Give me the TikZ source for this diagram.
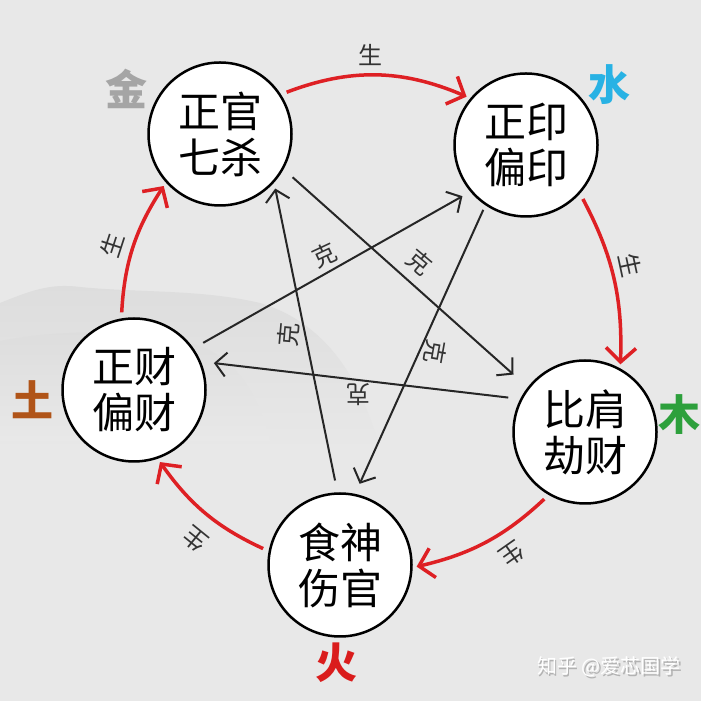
\documentclass[tikz,border=0pt]{standalone}
\usepackage{fontspec}
\newfontfamily\cjk{Noto Sans CJK SC}
\usetikzlibrary{arrows.meta}
\definecolor{bggray}{RGB}{232,232,232}
\definecolor{hillgray}{RGB}{221,221,221}
\definecolor{shengred}{RGB}{222,32,36}
\definecolor{jingray}{RGB}{165,165,165}
\definecolor{shuiblue}{RGB}{40,178,228}
\definecolor{mugreen}{RGB}{45,160,60}
\definecolor{huored}{RGB}{218,28,28}
\definecolor{tubrown}{RGB}{176,84,24}

\begin{document}
\begin{tikzpicture}[x=1pt,y=1pt,
		wx/.style={circle,draw,line width=2.5pt,fill=white,
				minimum size=143pt,inner sep=0pt,align=center,
				font=\cjk\fontsize{42}{46}\selectfont},
		elem/.style={font=\cjk\bfseries\fontsize{42}{42}\selectfont},
		sheng/.style={-{Straight Barb[length=14pt,width=30pt]},line width=3.5pt,shengred},
		ke/.style={-{Straight Barb[length=11pt,width=24pt]},line width=2pt,black!85},
		lbl/.style={font=\cjk\fontsize{24}{24}\selectfont,text=black!80}]
	\useasboundingbox (0,0) rectangle (701,701);
	\fill[bggray] (0,0) rectangle (701,701);
	% faint ink-wash hills
	\shade[top color=hillgray,bottom color=bggray] (0,398)
		.. controls (30,410) and (50,418) .. (80,414)
		.. controls (140,408) and (200,412) .. (260,398)
		.. controls (320,380) and (360,330) .. (380,250)
		-- (0,250) -- cycle;
	\shade[top color=hillgray,bottom color=bggray] (0,360)
		.. controls (60,372) and (140,372) .. (200,355)
		.. controls (240,340) and (260,300) .. (270,260)
		-- (0,260) -- cycle;
	% five elements
	\node[wx] (jin)  at (220,567) {正官\\七杀};
	\node[wx] (shui) at (526,556) {正印\\偏印};
	\node[wx] (mu)   at (585,269) {比肩\\劫财};
	\node[wx] (huo)  at (340,136) {食神\\伤官};
	\node[wx] (tu)   at (134,311) {正财\\偏财};
	\node[elem,text=jingray]  (jinname)  at (126,612) {金};
	\node[elem,text=shuiblue] (shuiname) at (609,616) {水};
	\node[elem,text=mugreen]  (muname)   at (679,286) {木};
	\node[elem,text=huored]   (huoname)  at (336,38)  {火};
	\node[elem,text=tubrown]  (tuname)   at (33,301)  {土};
	% sheng cycle
	\draw[sheng,shorten <=6pt,shorten >=4pt] (jin.33) to[bend left=22] (shui.140);
	\draw[sheng,shorten <=6pt,shorten >=4pt] (shui.-42) to[bend left=15] (mu.61);
	\draw[sheng,shorten <=6pt,shorten >=4pt] (mu.240) to[bend left=15] (huo.-2);
	\draw[sheng,shorten <=6pt,shorten >=4pt] (huo.169) to[bend left=15] (tu.-71);
	\draw[sheng,shorten <=6pt,shorten >=4pt] (tu.100) to[bend left=15] (jin.222);
	\node[lbl]            (s1) at (370,646) {生};
	\node[lbl,rotate=-78] (s2) at (630,436) {生};
	\node[lbl,rotate=-145](s3) at (512,147) {生};
	\node[lbl,rotate=141] (s4) at (195,162) {生};
	\node[lbl,rotate=72]  (s5) at (112,456) {生};
	% ke cycle
	\draw[ke,shorten <=12pt,shorten >=19pt] (jin.-29) -- (mu.142);
	\draw[ke,shorten <=12pt,shorten >=13pt] (mu.153) -- (tu.23);
	\draw[ke,shorten <=11pt,shorten >=9pt] (tu.35) -- (shui.220);
	\draw[ke,shorten <=5pt,shorten >=11pt] (shui.236) -- (huo.78);
	\draw[ke,shorten <=12pt,shorten >=6pt] (huo.92) -- (jin.-42);
	\node[lbl,rotate=25]  (k1) at (325,446) {克};
	\node[lbl,rotate=-40] (k2) at (420,439) {克};
	\node[lbl,rotate=85]  (k3) at (288,366) {克};
	\node[lbl,rotate=-100](k4) at (435,349) {克};
	\node[lbl,rotate=180] (k5) at (358,306) {克};
	% watermark
	\node[font=\cjk\fontsize{20}{20}\selectfont,text=black!30] (markshadow) at (610.5,32.5) {知乎 @爱芯国学};
	\node[font=\cjk\fontsize{20}{20}\selectfont,text=white] (mark) at (609,34) {知乎 @爱芯国学};
\end{tikzpicture}
\end{document}
